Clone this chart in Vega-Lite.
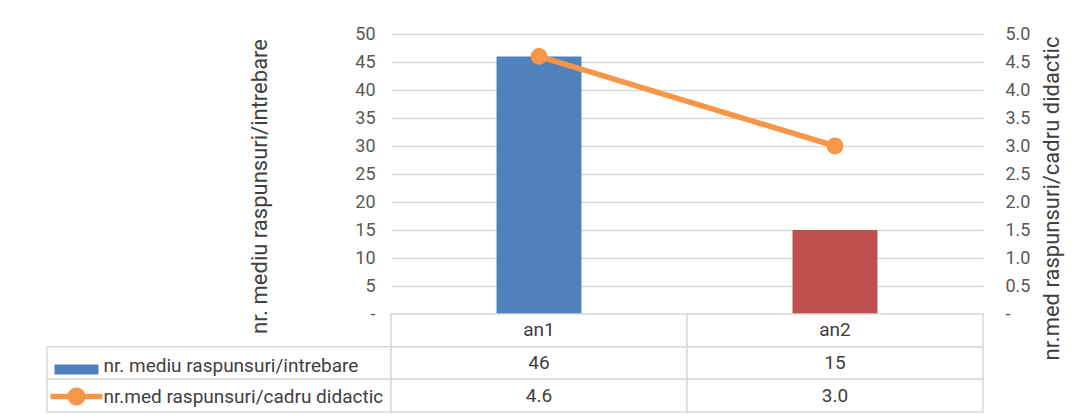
{
  "$schema": "https://vega.github.io/schema/vega-lite/v6.json",
  "background": "white",
  "padding": {"left": 46, "top": 25, "right": 5, "bottom": 2},
  "config": {
    "font": "Roboto",
    "view": {"stroke": null},
    "text": {"font": "Roboto"}
  },
  "datasets": {
    "t": [
      {"an": "an1", "intrebare": 46, "cadru": 4.6},
      {"an": "an2", "intrebare": 15, "cadru": 3.0}
    ]
  },
  "data": {"name": "t"},
  "columns": 2,
  "align": "each",
  "bounds": "flush",
  "spacing": 0,
  "resolve": {"scale": {"color": "independent", "fill": "independent", "shape": "independent"}},
  "concat": [
    {
      "width": 344,
      "height": 280,
      "data": {"values": []},
      "mark": "point",
      "encoding": {}
    },
    {
      "width": 592,
      "height": 280,
      "encoding": {
        "x": {"field": "an", "type": "nominal", "scale": {"paddingInner": 0, "paddingOuter": 0}, "axis": null}
      },
      "layer": [
        {
          "mark": {"type": "bar", "width": {"band": 0.287}},
          "encoding": {
            "y": {
              "field": "intrebare", "type": "quantitative",
              "scale": {"domain": [0, 50], "nice": false},
              "axis": {
                "title": "nr. mediu raspunsuri/intrebare",
                "values": [0, 5, 10, 15, 20, 25, 30, 35, 40, 45, 50],
                "grid": true, "gridColor": "#d9d9d9", "gridWidth": 1.5,
                "domain": false, "ticks": false,
                "labelPadding": 16, "labelFontSize": 18, "labelColor": "#595959",
                "labelExpr": "datum.value === 0 ? '-' : datum.label",
                "titleFontSize": 22, "titleFontWeight": "normal", "titleColor": "#404040",
                "titlePadding": 83, "titleY": 152
              }
            },
            "fill": {"field": "an", "type": "nominal", "scale": {"range": ["#4F81BD", "#C0504D"]}, "legend": null}
          }
        },
        {
          "mark": {"type": "line", "color": "#F79646", "strokeWidth": 5.5, "point": {"filled": true, "size": 285, "color": "#F79646"}},
          "encoding": {
            "y": {
              "field": "cadru", "type": "quantitative",
              "scale": {"domain": [0, 5], "nice": false},
              "axis": {
                "orient": "right",
                "title": "nr.med raspunsuri/cadru didactic",
                "values": [0, 0.5, 1, 1.5, 2, 2.5, 3, 3.5, 4, 4.5, 5],
                "format": ".1f",
                "grid": false, "domain": false, "ticks": false,
                "labelPadding": 22, "labelFontSize": 18, "labelColor": "#595959",
                "labelExpr": "datum.value === 0 ? '-' : datum.label",
                "titleFontSize": 22, "titleFontWeight": "normal", "titleColor": "#404040",
                "titleAngle": 270, "titleBaseline": "top",
                "titlePadding": 12, "titleY": 164
              }
            }
          }
        }
      ],
      "resolve": {"scale": {"y": "independent"}}
    },
    {
      "width": 344,
      "height": 98,
      "transform": [
        {"filter": "datum.an === 'an1'"},
        {"fold": ["intrebare", "cadru"], "as": ["series", "value"]}
      ],
      "encoding": {
        "y": {"field": "series", "type": "nominal", "scale": {"domain": ["header", "intrebare", "cadru"], "paddingInner": 0, "paddingOuter": 0}, "axis": null}
      },
      "layer": [
        {
          "mark": {"type": "point", "filled": true, "size": 20},
          "encoding": {
            "color": {
              "field": "series", "type": "nominal",
              "scale": {"domain": ["intrebare", "cadru"], "range": ["#4F81BD", "#F79646"]},
              "legend": {
                "orient": "none", "legendX": 13, "legendY": 35, "direction": "vertical",
                "title": null, "padding": 0, "rowPadding": 4,
                "symbolSize": 1089, "symbolStrokeWidth": 0, "symbolOpacity": 1,
                "labelOffset": 10.5, "labelFontSize": 19, "labelColor": "#404040", "labelLimit": 400,
                "labelExpr": "datum.label === 'intrebare' ? 'nr. mediu raspunsuri/intrebare' : 'nr.med raspunsuri/cadru didactic'"
              }
            },
            "shape": {
              "field": "series", "type": "nominal",
              "scale": {
                "domain": ["intrebare", "cadru"],
                "range": [
                  "M-1.333,-0.06H1.333V0.545H-1.333Z",
                  "M-1.576,-0.167H1.576V0.167H-1.576Z M-0.545,0A0.545,0.545 0 1,1 0.545,0A0.545,0.545 0 1,1 -0.545,0Z"
                ]
              },
              "legend": {
                "orient": "none", "legendX": 13, "legendY": 35, "direction": "vertical",
                "title": null, "padding": 0, "rowPadding": 4,
                "symbolSize": 1089, "symbolStrokeWidth": 0, "symbolOpacity": 1,
                "labelOffset": 10.5, "labelFontSize": 19, "labelColor": "#404040", "labelLimit": 400,
                "labelExpr": "datum.label === 'intrebare' ? 'nr. mediu raspunsuri/intrebare' : 'nr.med raspunsuri/cadru didactic'"
              }
            }
          }
        },
        {
          "mark": {"type": "rect", "fill": "white", "stroke": "#d9d9d9", "strokeWidth": 1.5}
        }
      ]
    },
    {
      "width": 592,
      "height": 98,
      "encoding": {
        "x": {"field": "an", "type": "nominal", "scale": {"paddingInner": 0, "paddingOuter": 0}, "axis": null}
      },
      "layer": [
        {
          "transform": [{"fold": ["intrebare", "cadru"], "as": ["series", "value"]}],
          "mark": {"type": "rect", "fill": "white", "stroke": "#d9d9d9", "strokeWidth": 1.5},
          "encoding": {
            "y": {"field": "series", "type": "nominal", "scale": {"domain": ["header", "intrebare", "cadru"], "paddingInner": 0, "paddingOuter": 0}, "axis": null}
          }
        },
        {
          "mark": {"type": "rect", "fill": "white", "stroke": "#d9d9d9", "strokeWidth": 1.5},
          "encoding": {"y": {"datum": "header", "type": "nominal"}}
        },
        {
          "mark": {"type": "text", "fontSize": 19, "color": "#404040"},
          "encoding": {"y": {"datum": "header", "type": "nominal"}, "text": {"field": "an", "type": "nominal"}}
        },
        {
          "mark": {"type": "text", "fontSize": 19, "color": "#404040"},
          "encoding": {"y": {"datum": "intrebare", "type": "nominal"}, "text": {"field": "intrebare", "type": "quantitative", "format": ".0f"}}
        },
        {
          "mark": {"type": "text", "fontSize": 19, "color": "#404040"},
          "encoding": {"y": {"datum": "cadru", "type": "nominal"}, "text": {"field": "cadru", "type": "quantitative", "format": ".1f"}}
        }
      ]
    }
  ]
}
